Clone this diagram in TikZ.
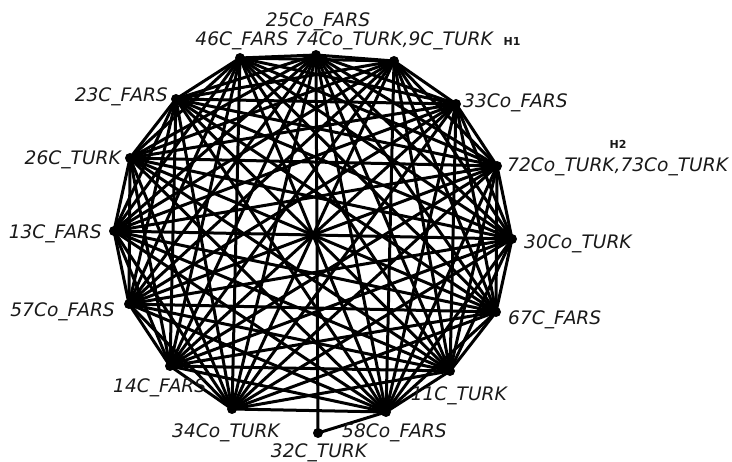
\documentclass[tikz,border=0pt]{standalone}
\usepackage{fontspec}
\setmainfont{DejaVu Sans}
\usepackage{tikz}
\usetikzlibrary{backgrounds}

\begin{document}
\begin{tikzpicture}[
  x=1pt,y=-1pt,
  pt/.style={circle,fill=black,inner sep=0pt,minimum size=10pt},
  edge/.style={draw=black,line width=3pt,line cap=round},
  lab/.style={inner sep=0pt,text=black!90,font=\fontsize{18.6}{20}\selectfont\itshape},
  hlab/.style={inner sep=0pt,text=black!90,font=\fontsize{11}{12}\selectfont\bfseries}
]
\useasboundingbox (0,0) rectangle (732,462);

% ---- vertices
\node[pt] (n25) at (316,55)    {};
\node[pt] (n74) at (394,61)    {};
\node[pt] (n33) at (456,104)   {};
\node[pt] (n72) at (497,166)   {};
\node[pt] (n30) at (512,239)   {};
\node[pt] (n67) at (496,312)   {};
\node[pt] (n11) at (450,371)   {};
\node[pt] (n58) at (386,412)   {};
\node[pt] (n34) at (232,409)   {};
\node[pt] (n14) at (170,366)   {};
\node[pt] (n57) at (129,304)   {};
\node[pt] (n13) at (114,231)   {};
\node[pt] (n26) at (130,158)   {};
\node[pt] (n23) at (176,99)    {};
\node[pt] (n46) at (240,58)    {};
\node[pt] (n32) at (318,433)   {};

% ---- arestas
\begin{scope}[on background layer]
\foreach \a [count=\i] in {n25,n74,n33,n72,n30,n67,n11,n58,n34,n14,n57,n13,n26,n23,n46}
  \foreach \b [count=\j] in {n25,n74,n33,n72,n30,n67,n11,n58,n34,n14,n57,n13,n26,n23,n46}
    {\ifnum\j>\i \draw[edge] (\a.center) -- (\b.center); \fi}
\draw[edge] (n32.center) -- (n25.center);
\draw[edge] (n32.center) -- (n58.center);
\end{scope}

% ---- rotulos
\node[lab] (l25) at (318,22) {25Co\_FARS};
\node[lab] (l46) at (242,41) {46C\_FARS};
\node[lab,anchor=west] (l74) at (295,41) {74Co\_TURK,9C\_TURK};
\node[hlab] (h1) at (512,41) {H1};
\node[lab,anchor=west] (l33) at (463,103) {33Co\_FARS};
\node[hlab] (h2) at (618,144) {H2};
\node[lab,anchor=west] (l72) at (507,167) {72Co\_TURK,73Co\_TURK};
\node[lab,anchor=west] (l30) at (524,244) {30Co\_TURK};
\node[lab,anchor=west] (l67) at (508,320) {67C\_FARS};
\node[lab,anchor=east] (l11) at (507,396) {11C\_TURK};
\node[lab,anchor=west] (l58) at (342,433) {58Co\_FARS};
\node[lab] (l32) at (319,453) {32C\_TURK};
\node[lab,anchor=west] (l34) at (172,433) {34Co\_TURK};
\node[lab,anchor=west] (l14) at (113,388) {14C\_FARS};
\node[lab,anchor=east] (l57) at (115,312) {57Co\_FARS};
\node[lab,anchor=east] (l13) at (102,234) {13C\_FARS};
\node[lab,anchor=east] (l26) at (121,160) {26C\_TURK};
\node[lab,anchor=east] (l23) at (168,97) {23C\_FARS};
\end{tikzpicture}
\end{document}
